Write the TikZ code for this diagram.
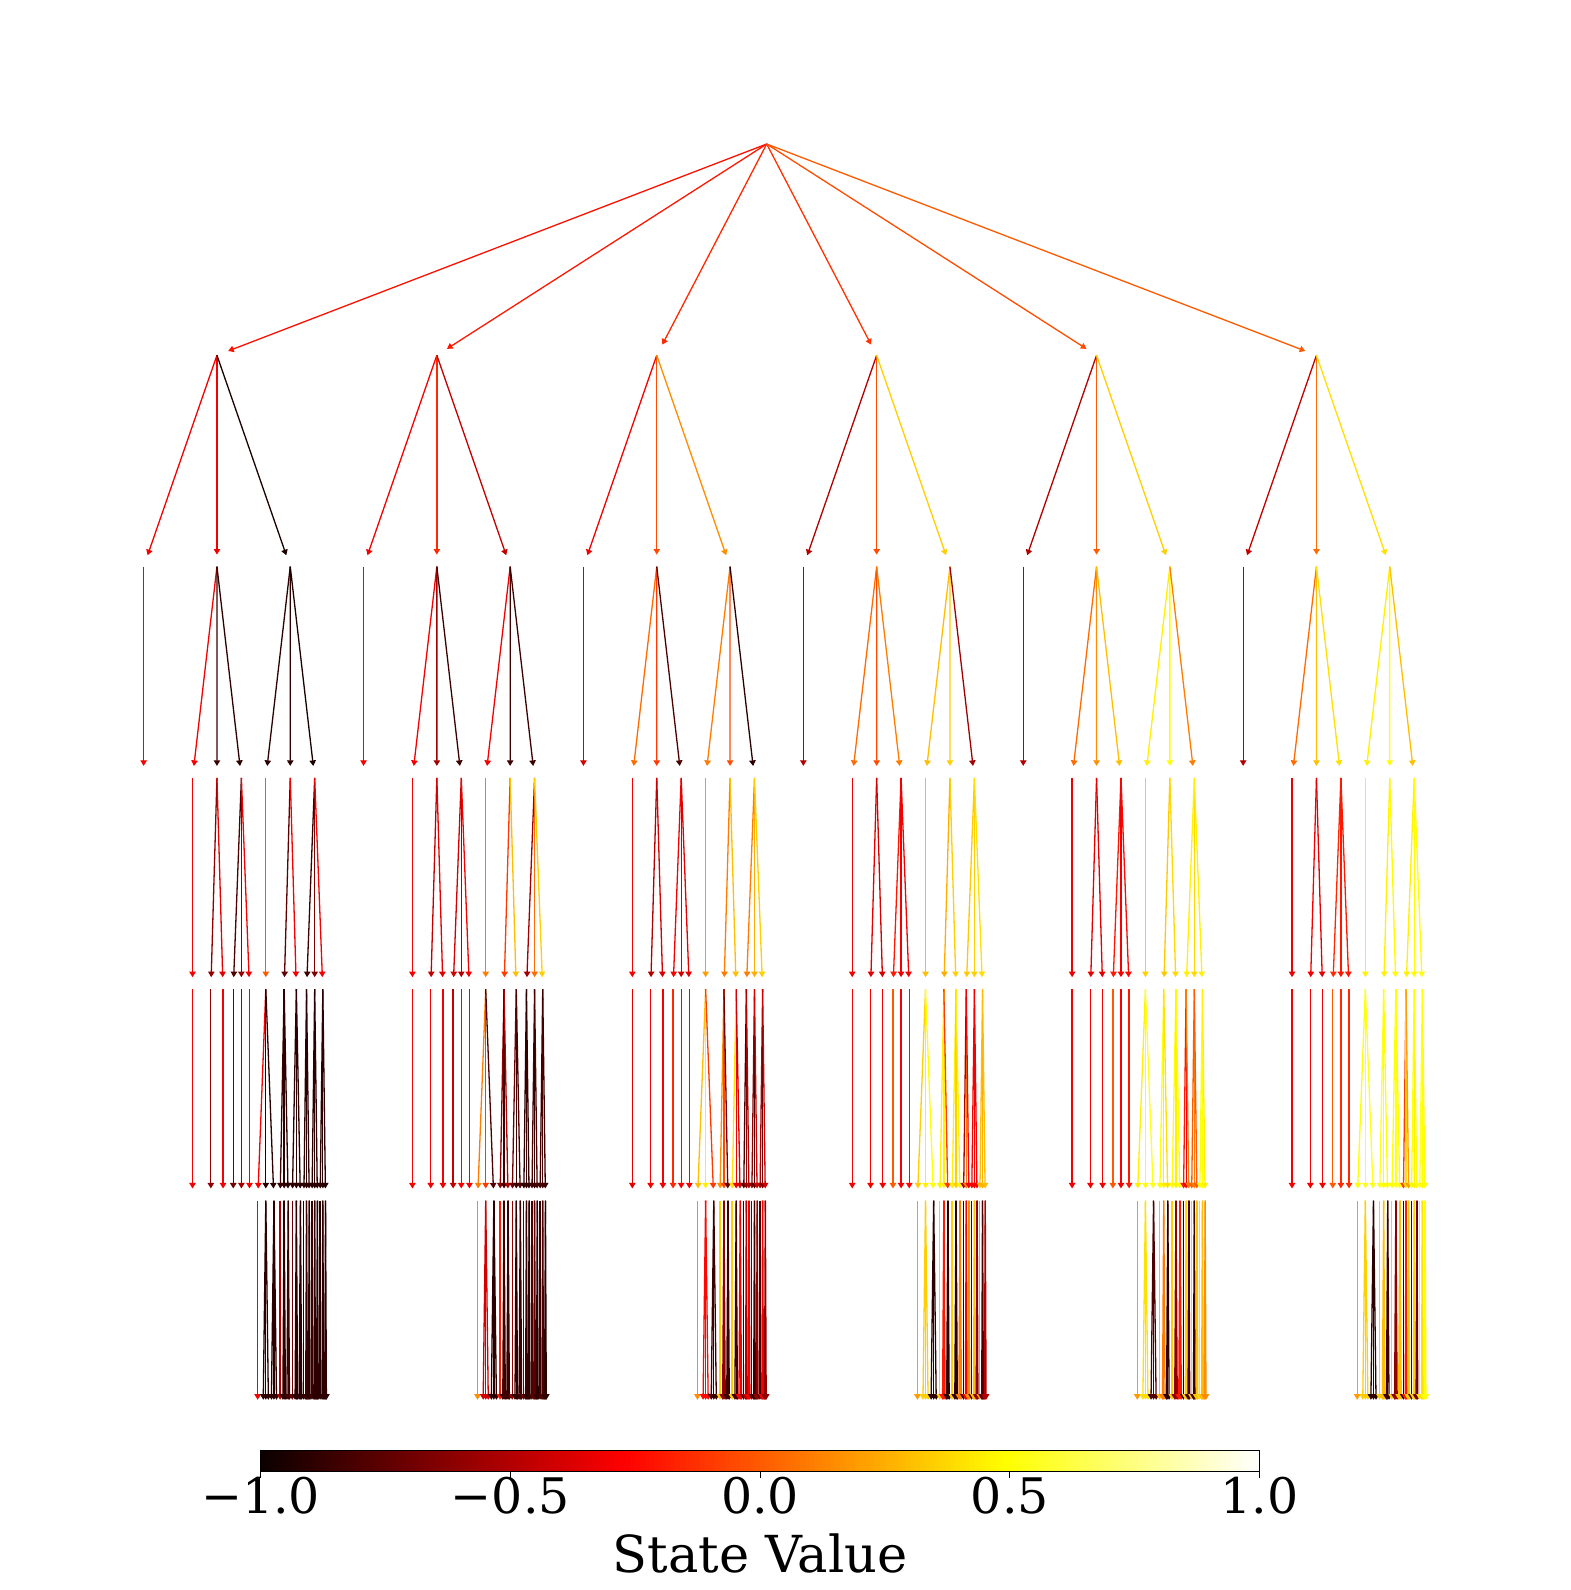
\documentclass[tikz,border=0pt]{standalone}
\usepackage{fontspec}
\setmainfont{DejaVu Serif}
\usetikzlibrary{arrows.meta}

% ---------- hot colormap ----------
\newcommand\hotcolor[1]{%
  \pgfmathsetmacro\hotT{(#1+1)/2}%
  \pgfmathsetmacro\hotR{min(1,0.0416+0.9584*\hotT/0.365079)}%
  \pgfmathsetmacro\hotG{min(1,max(0,(\hotT-0.365079)/0.380953))}%
  \pgfmathsetmacro\hotB{min(1,max(0,(\hotT-0.746032)/0.253968))}%
  \definecolor{hc}{rgb}{\hotR,\hotG,\hotB}}

% ---------- tree structure (types) ----------
\def\tdef#1#2#3{\expandafter\def\csname tkids#1\endcsname{#2}\expandafter\def\csname tnum#1\endcsname{#3}}
\tdef{R}{A,A,A,A,A,A}{6}
\tdef{A}{P,M,N}{3}
\tdef{P}{L}{1}
\tdef{L}{}{0}
\tdef{M}{B0,B1,B2}{3}
\tdef{N}{C0,C1,C2}{3}
\tdef{B0}{P}{1}
\tdef{B1}{P,P}{2}
\tdef{B2}{P,P,P}{3}
\tdef{C0}{A}{1}
\tdef{C1}{A,A}{2}
\tdef{C2}{A,A,A}{3}

% ---------- state values, per level, left to right ----------
\expandafter\def\csname vlist1\endcsname{-0.22,-0.2,-0.15,-0.12,-0.04,0.0,0,0,0,}
\expandafter\def\csname vlist2\endcsname{%
-0.3,-0.3,-0.95,
-0.3,-0.15,-0.45,
-0.3,-0.05,0.15,
-0.5,-0.05,0.35,
-0.5,0.0,0.35,
-0.45,0.05,0.4,0,0,0,}
\expandafter\def\csname vlist3\endcsname{%
-0.3,-0.3,-0.85,-0.9,-0.9,-0.9,-0.95,
-0.3,-0.3,-0.55,-0.85,-0.3,-0.85,-0.85,
-0.4,0.05,-0.1,-0.8,0.1,-0.05,-0.9,
-0.5,0.05,-0.05,0.1,0.3,0.35,-0.55,
-0.5,0.05,0.15,0.3,0.45,0.5,0.1,
-0.5,0.05,0.3,0.4,0.45,0.5,0.3,0,0,0,}
\expandafter\def\csname vlist4\endcsname{%
-0.3,-0.6,-0.35,-0.8,-0.6,-0.3,0.0,-0.75,-0.3,-0.85,-0.65,-0.3,
-0.3,-0.45,-0.35,-0.4,-0.5,-0.3,0.1,-0.1,0.3,-0.55,0.05,0.35,
-0.3,-0.5,-0.4,-0.3,-0.4,-0.35,0.2,0.1,0.3,0.1,0.25,0.35,
-0.32,-0.35,-0.4,-0.2,-0.3,-0.3,0.3,0.25,0.35,0.33,0.35,0.4,
-0.32,-0.35,-0.35,-0.2,-0.3,-0.25,0.35,0.33,0.38,0.45,0.38,0.45,
-0.32,-0.3,-0.35,-0.15,-0.2,-0.2,0.45,0.45,0.48,0.45,0.48,0.5,0,0,0,}
\expandafter\def\csname vlist5\endcsname{%
-0.3,-0.6,-0.3,-0.7,-0.55,-0.3, -0.3,-0.9,-0.9, -0.85,-0.9,-0.9, -0.9,-0.9,-0.9, -0.9,-0.9,-0.9, -0.9,-0.9,-0.9, -0.9,-0.9,-0.9,
-0.3,-0.3,-0.3,-0.45,-0.3,-0.3, 0.1,-0.1,-0.8, -0.6,-0.85,-0.5, -0.7,-0.85,-0.8, -0.9,-0.85,-0.9, -0.8,-0.9,-0.8, -0.85,-0.8,-0.85,
-0.35,-0.3,-0.3,-0.15,-0.3,-0.3, 0.3,0.45,-0.1, 0.15,-0.05,-0.7, 0.4,-0.3,-0.4, -0.8,-0.6,-0.5, -0.6,-0.8,-0.4, -0.5,-0.7,-0.4,
-0.3,-0.3,-0.3,0.0,-0.3,-0.25, 0.35,0.45,0.5, 0.45,0.45,-0.1, 0.45,0.35,0.45, -0.5,0.1,-0.3, -0.3,-0.3,-0.3, 0.3,0.25,0.3,
-0.3,-0.3,-0.3,0.0,-0.3,-0.2, 0.45,0.5,0.55, 0.5,0.45,0.4, 0.5,0.45,0.5, -0.2,-0.3,0.1, 0.0,0.1,0.0, 0.5,0.5,0.45,
-0.3,-0.3,-0.3,0.0,-0.15,-0.15, 0.5,0.55,0.55, 0.55,0.5,0.5, 0.5,0.55,0.5, -0.1,0.4,0.2, 0.5,0.45,0.5, 0.55,0.5,0.5,0,0,0,}
\expandafter\def\csname vlist6\endcsname{%
-0.3,-0.9,-0.9, -0.5,-0.9,-0.85, -0.7,-0.9,-0.9, -0.9,-0.85,-0.9, -0.85,-0.9,-0.9, -0.9,-0.9,-0.9,
0.15,-0.4,-0.9, -0.2,-0.85,-0.85, -0.6,-0.9,-0.85, -0.7,-0.85,-0.9, -0.8,-0.75,-0.9, -0.85,-0.8,-0.9,
0.15,-0.25,-0.85, 0.35,-0.6,-0.85, 0.35,-0.85,-0.3, -0.85,-0.5,-0.3, -0.7,-0.85,-0.6, -0.8,-0.3,-0.6,
0.2,0.35,-0.9, 0.35,-0.2,-0.9, 0.35,-0.9,0.1, -0.9,-0.3,0.15, -0.8,0.3,-0.6, 0.2,-0.8,-0.5,
0.2,0.4,-0.8, 0.3,0.1,-0.9, 0.35,-0.6,-0.2, -0.9,0.35,-0.8, 0.35,-0.85,0.3, 0.4,0.3,0.15,
0.2,0.35,-0.9, 0.35,0.3,-0.85, 0.35,-0.6,0.3, -0.9,-0.2,0.35, -0.8,0.35,-0.7, 0.45,0.4,0.5,0,0,0,}

\def\popv#1{\expandafter\expandafter\expandafter\popaux\csname vlist#1\endcsname\relax{#1}}
\def\popaux#1,#2\relax#3{\gdef\curv{#1}\expandafter\gdef\csname vlist#3\endcsname{#2}}

% ---------- recursive drawing ----------
\newcount\kidi
\def\iterkids#1,{\ifx\relax#1\else\dokid{#1}\expandafter\iterkids\fi}
\def\dokid#1{%
  \pgfmathsetmacro\cw{\pw/\nk}%
  \pgfmathsetmacro\cx{\px-\pw/2+(\the\kidi+0.5)*\cw}%
  \pgfmathsetmacro\yA{144+211.3*\pd}%
  \pgfmathsetmacro\yB{144+211.3*(\pd+1)}%
  \ifnum\pd=5 \edef\curv{\sharedv}\else\popv{\the\numexpr\pd+1\relax}\fi
  \hotcolor{\curv}%
  \coordinate (s) at (\px,\yA);
  \coordinate (e) at (\cx,\yB);
  \draw[arr] (s) -- (e);
  \drawnode{#1}{\cx}{\cw}{\the\numexpr\pd+1\relax}%
  \advance\kidi by 1\relax}
\newcommand\drawnode[4]{%
  \begingroup
  \edef\px{#2}\edef\pw{#3}\edef\pd{#4}%
  \edef\nk{\csname tnum#1\endcsname}%
  \ifnum\pd<6 \ifnum\nk>0
    \ifnum\pd=5 \popv{6}\edef\sharedv{\curv}\fi
    \kidi=0
    \edef\kidlist{\csname tkids#1\endcsname}%
    \expandafter\iterkids\kidlist,\relax,%
  \fi\fi
  \endgroup}

\begin{document}
\begin{tikzpicture}[x=0.5pt,y=-0.5pt,
  arr/.style={draw=hc,line width=0.65pt,shorten >=6pt,-{Triangle[length=2.8pt,width=3.2pt]}},
  lab/.style={font=\fontsize{24.5}{28}\selectfont,inner sep=0pt}]
\useasboundingbox (0,0) rectangle (1570,1590);
\fill[white] (0,0) rectangle (1570,1590);

\drawnode{R}{766.7}{1319.4}{0}

% colorbar
\foreach \k in {0,...,199}{%
  \pgfmathsetmacro\cbv{2*(\k+0.5)/200-1}%
  \hotcolor{\cbv}%
  \pgfmathsetmacro\cbx{260.6+\k*4.995}%
  \fill[hc] (\cbx,1450) rectangle ++(5.4,21);
}
\draw[line width=0.5pt] (260.6,1450) rectangle (1259.6,1471);
\foreach \v/\t [count=\i] in {-1/{−1.0},-0.5/{−0.5},0/{0.0},0.5/{0.5},1/{1.0}}{%
  \pgfmathsetmacro\tx{260.6+(\v+1)*499.5}%
  \draw[line width=0.5pt] (\tx,1471) -- (\tx,1478);
  \node[lab] (tick\i) at (\tx,1496) {\t};
}
\node[lab,font=\fontsize{25.5}{29}\selectfont] (title) at (760.1,1553) {State Value};
\end{tikzpicture}
\end{document}
